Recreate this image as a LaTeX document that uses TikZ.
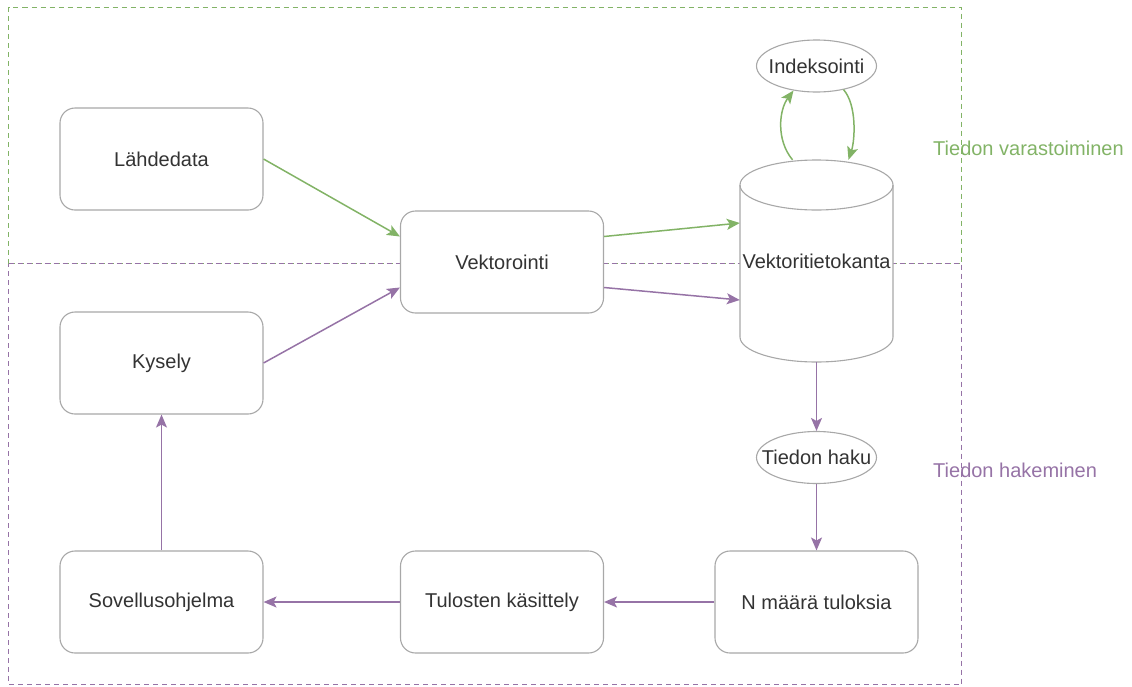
\documentclass[tikz,border=0pt]{standalone}
\usepackage{fontspec}
\setmainfont{Liberation Sans}
\usetikzlibrary{arrows.meta,shapes.geometric}
\definecolor{grn}{HTML}{82B366}
\definecolor{prp}{HTML}{9673A6}
\definecolor{txt}{HTML}{333333}
\definecolor{edgec}{HTML}{A8A8A8}
\begin{document}
\begin{tikzpicture}[x=1pt,y=-1pt,
  font=\fontsize{20}{24}\selectfont, text=txt,
  box/.style={draw=edgec, line width=1.1pt, fill=white, rounded corners=15pt,
    minimum width=203pt, minimum height=102pt, inner sep=0pt},
  oval/.style={draw=edgec, line width=1.1pt, fill=white, ellipse,
    minimum width=120pt, minimum height=52pt, inner sep=0pt},
  frame/.style={line width=1.6pt, dash pattern=on 5pt off 4pt},
  garr/.style={draw=grn, line width=1.5pt, -{Stealth[length=13pt,width=11pt,inset=3pt]}},
  parr/.style={draw=prp, line width=1.5pt, -{Stealth[length=13pt,width=11pt,inset=3pt]}},
  lbl/.style={anchor=west, inner sep=0pt}
]
\useasboundingbox (0,0) rectangle (1132,686);
% frames
\draw[frame, draw=grn] (8.5,263.5) -- (8.5,7.5) -- (961.5,7.5) -- (961.5,263.5) -- cycle;
\draw[frame, draw=prp] (8.5,263.5) -- (961.5,263.5) -- (961.5,684.5) -- (8.5,684.5) -- cycle;
% nodes
\node[box] (lah) at (161.5,159) {Lähdedata};
\node[box] (kys) at (161.5,363) {Kysely};
\node[box] (sov) at (161.5,602) {Sovellusohjelma};
\node[box] (vek) at (502,262) {Vektorointi};
\node[box] (tul) at (502,602) {Tulosten käsittely};
\node[box] (nma) at (816.5,602) {N määrä tuloksia};
% cylinder
\node[minimum width=153pt, minimum height=202pt, inner sep=0pt] (db) at (816.5,261) {};
\fill[white] (740,185) -- (740,337) arc[start angle=180,end angle=360,x radius=76.5pt,y radius=25pt] -- (893,185) arc[start angle=0,end angle=180,x radius=76.5pt,y radius=25pt] -- cycle;
\draw[edgec, line width=1.1pt] (740,185) -- (740,337) arc[start angle=180,end angle=360,x radius=76.5pt,y radius=25pt] -- (893,185);
\draw[edgec, line width=1.1pt] (816.5,185) ellipse[x radius=76.5pt, y radius=25pt];
\node at (db.center) {Vektoritietokanta};
\node[oval] (idx) at (816.5,66) {\makebox[0pt]{Indeksointi}};
\node[oval] (hak) at (816.5,457.5) {\makebox[0pt]{Tiedon haku}};
% labels
\node[lbl, text=grn] (lv) at (933,148) {Tiedon varastoiminen};
\node[lbl, text=prp] (lh) at (933,470) {Tiedon hakeminen};
% connectors
\draw[garr] (lah.east) -- ([yshift=25.5pt]vek.west);
\draw[parr] (kys.east) -- ([yshift=-25.5pt]vek.west);
\draw[garr] ([yshift=25.5pt]vek.east) -- ([yshift=38pt]db.west);
\draw[parr] ([yshift=-25.5pt]vek.east) -- ([yshift=-39pt]db.west);
\coordinate (c1) at ([xshift=-24pt]db.north);
\coordinate (c2) at ([xshift=-23pt,yshift=2pt]idx.south);
\coordinate (c3) at ([xshift=27pt,yshift=3pt]idx.south);
\coordinate (c4) at ([xshift=32pt]db.north);
\draw[garr] (c1) .. controls (776,140) and (779,110) .. (c2);
\draw[garr] (c3) .. controls (857,105) and (855,140) .. (c4);
\draw[parr] (db.south) -- (hak.north);
\draw[parr] (hak.south) -- (nma.north);
\draw[parr] (nma.west) -- (tul.east);
\draw[parr] (tul.west) -- (sov.east);
\draw[parr] (sov.north) -- (kys.south);
\end{tikzpicture}
\end{document}
